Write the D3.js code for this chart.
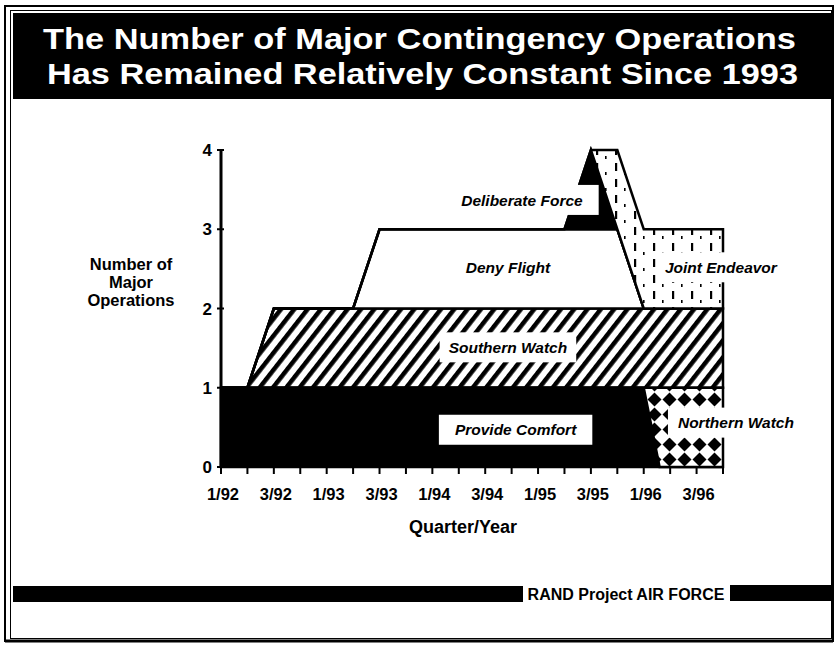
<!DOCTYPE html>
<html>
<head>
<meta charset="utf-8">
<script src="https://cdn.jsdelivr.net/npm/d3@7"></script>
<style>
  body { margin: 0; background: #fff; }
  text { font-family: "Liberation Sans", Arial, Helvetica, sans-serif; }
</style>
</head>
<body>
<div id="chart"></div>
<script>
// quarters since 1/92 where the series change (0 = 1/92, 19 = 4/96)
let quarterPos      = [0, 1, 2, 5, 6, 13, 14, 15, 16, 16.6, 19]
let provideComfort  = [1, 1, 1, 1, 1, 1,  1,  1,  1,  0,    0]
let northernWatch   = [0, 0, 0, 0, 0, 0,  0,  0,  0,  1,    1]
let southernWatch   = [0, 0, 1, 1, 1, 1,  1,  1,  1,  1,    1]
let denyFlight      = [0, 0, 0, 0, 1, 1,  1,  1,  0,  0,    0]
let deliberateForce = [0, 0, 0, 0, 0, 0,  1,  0,  0,  0,    0]
let jointEndeavor   = [0, 0, 0, 0, 0, 0,  0,  1,  1,  1,    1]

let seriesNames = ['Provide Comfort', 'Northern Watch', 'Southern Watch', 'Deny Flight', 'Deliberate Force', 'Joint Endeavor']
let seriesValues = [provideComfort, northernWatch, southernWatch, denyFlight, deliberateForce, jointEndeavor]

let quarterLabels = ['1/92','2/92','3/92','4/92','1/93','2/93','3/93','4/93','1/94','2/94',
                     '3/94','4/94','1/95','2/95','3/95','4/95','1/96','2/96','3/96','4/96']
let yTicks = [0, 1, 2, 3, 4]

// label anchors in chart units (quarter, operations)
let labelQ = [11.15, 19.49, 10.86, 10.86, 11.39, 18.92]
let labelV = [0.47, 0.56, 1.51, 2.52, 3.37, 2.52]

let width = 836, height = 648

let svg = d3.select('#chart').append('svg')
  .attr('width', width)
  .attr('height', height)

let defs = svg.append('defs')

// diagonal hatch for Southern Watch
defs.append('pattern')
  .attr('id', 'hatch')
  .attr('patternUnits', 'userSpaceOnUse')
  .attr('width', 10.5).attr('height', 10)
  .attr('patternTransform', 'rotate(38)')
  .append('rect')
  .attr('x', 0).attr('y', 0).attr('width', 4.5).attr('height', 10)
  .attr('fill', '#000')

// diamonds for Northern Watch
let dia = defs.append('pattern')
  .attr('id', 'diamonds')
  .attr('patternUnits', 'userSpaceOnUse')
  .attr('x', 2).attr('y', 2)
  .attr('width', 15).attr('height', 15)
dia.append('rect').attr('width', 15).attr('height', 15).attr('fill', '#fff')
dia.append('path').attr('d', 'M7.5,0.5 L14.5,7.5 L7.5,14.5 L0.5,7.5 Z').attr('fill', '#000')

// little dashes for Joint Endeavor
let dash = defs.append('pattern')
  .attr('id', 'dashes')
  .attr('patternUnits', 'userSpaceOnUse')
  .attr('x', 3).attr('y', 2)
  .attr('width', 19).attr('height', 16)
dash.append('rect').attr('width', 19).attr('height', 16).attr('fill', '#fff')
dash.append('rect').attr('x', 4).attr('y', 1).attr('width', 2.2).attr('height', 8).attr('fill', '#000')
dash.append('rect').attr('x', 13).attr('y', 10).attr('width', 1.6).attr('height', 3).attr('fill', '#000')

let fills = ['#000', 'url(#diamonds)', 'url(#hatch)', '#fff', '#000', 'url(#dashes)']

// frame
svg.append('rect').attr('x', 5).attr('y', 6).attr('width', 828).attr('height', 635)
  .attr('fill', 'none').attr('stroke', '#000').attr('stroke-width', 2)
svg.append('rect').attr('x', 10.5).attr('y', 10.5).attr('width', 821).attr('height', 628)
  .attr('fill', 'none').attr('stroke', '#000').attr('stroke-width', 1)
svg.append('line').attr('x1', 5).attr('x2', 833).attr('y1', 641).attr('y2', 641)
  .attr('stroke', '#000').attr('stroke-width', 3)

// title
svg.append('rect').attr('x', 13).attr('y', 13).attr('width', 818).attr('height', 86).attr('fill', '#000')
let titleLines = ['The Number of Major Contingency Operations', 'Has Remained Relatively Constant Since 1993']
svg.selectAll('.title').data(titleLines).join('text')
  .attr('class', 'title')
  .attr('x', (d, i) => i == 0 ? 43 : 47)
  .attr('y', (d, i) => i == 0 ? 49 : 84)
  .attr('textLength', (d, i) => i == 0 ? 753 : 751)
  .attr('lengthAdjust', 'spacingAndGlyphs')
  .style('font-size', '30px')
  .style('font-weight', 'bold')
  .style('fill', '#fff')
  .text(d => d)

// scales
let x = d3.scaleLinear().domain([0, 19]).range([221, 723])
let y = d3.scaleLinear().domain([0, 4]).range([467, 150])

let table = quarterPos.map((q, i) => {
  let row = { q: q }
  seriesNames.forEach((n, j) => { row[n] = seriesValues[j][i] })
  return row
})

let stacked = d3.stack().keys(seriesNames)(table)

let area = d3.area()
  .x(d => x(d.data.q))
  .y0(d => y(d[0]))
  .y1(d => y(d[1]))

svg.append('g')
  .selectAll('path')
  .data(stacked)
  .join('path')
  .attr('d', area)
  .attr('fill', (d, i) => fills[i])
  .attr('stroke', '#000')
  .attr('stroke-width', 2.5)
  .attr('stroke-linejoin', 'miter')

// y axis
svg.append('line')
  .attr('x1', x(0)).attr('x2', x(0))
  .attr('y1', y(4) - 1).attr('y2', y(0))
  .attr('stroke', '#000').attr('stroke-width', 3)

svg.selectAll('.ytick').data(yTicks).join('line')
  .attr('class', 'ytick')
  .attr('x1', x(0) - 4).attr('x2', x(0) + 3)
  .attr('y1', d => y(d)).attr('y2', d => y(d))
  .attr('stroke', '#000').attr('stroke-width', 2)

svg.selectAll('.ylab').data(yTicks).join('text')
  .attr('class', 'ylab')
  .attr('x', 212)
  .attr('y', d => y(d))
  .attr('dy', '0.36em')
  .attr('text-anchor', 'end')
  .style('font-size', '17px')
  .style('font-weight', 'bold')
  .text(d => d)

// x axis ticks
svg.selectAll('.xtick').data(quarterLabels).join('line')
  .attr('class', 'xtick')
  .attr('x1', (d, i) => x(i)).attr('x2', (d, i) => x(i))
  .attr('y1', y(0)).attr('y2', y(0) + 7)
  .attr('stroke', '#000').attr('stroke-width', 2)

svg.selectAll('.xlab').data(quarterLabels.filter((d, i) => i % 2 == 0)).join('text')
  .attr('class', 'xlab')
  .attr('x', (d, i) => x(i * 2) + 2)
  .attr('y', 500)
  .attr('text-anchor', 'middle')
  .style('font-size', '16.5px')
  .style('font-weight', 'bold')
  .text(d => d)

svg.append('text')
  .attr('x', 463).attr('y', 533)
  .attr('text-anchor', 'middle')
  .style('font-size', '18px')
  .style('font-weight', 'bold')
  .text('Quarter/Year')

svg.selectAll('.ytitle').data(['Number of', 'Major', 'Operations']).join('text')
  .attr('class', 'ytitle')
  .attr('x', 131)
  .attr('y', (d, i) => 270 + i * 18)
  .attr('text-anchor', 'middle')
  .style('font-size', '16.5px')
  .style('font-weight', 'bold')
  .text(d => d)

// series labels with white boxes
let padX = [16, 10, 9, 0, 16, 5]
let labels = svg.append('g').selectAll('g')
  .data(seriesNames)
  .join('g')
  .attr('transform', (d, i) => `translate(${x(labelQ[i])},${y(labelV[i])})`)

labels.append('rect')
labels.append('text')
  .attr('text-anchor', 'middle')
  .attr('dy', '0.36em')
  .style('font-size', '15.5px')
  .style('font-weight', 'bold')
  .style('font-style', 'italic')
  .text(d => d)

labels.each(function(d, i) {
  let g = d3.select(this)
  let w = g.select('text').node().getComputedTextLength()
  g.select('rect')
    .attr('x', -w / 2 - padX[i])
    .attr('y', -15)
    .attr('width', w + 2 * padX[i])
    .attr('height', 30)
    .attr('fill', '#fff')
    .attr('opacity', padX[i] == 0 ? 0 : 1)
})

// footer
svg.append('rect').attr('x', 13).attr('y', 586).attr('width', 510).attr('height', 16).attr('fill', '#000')
svg.append('rect').attr('x', 730).attr('y', 585).attr('width', 101).attr('height', 16).attr('fill', '#000')
svg.append('text')
  .attr('x', 626).attr('y', 594)
  .attr('dy', '0.36em')
  .attr('text-anchor', 'middle')
  .style('font-size', '16px')
  .style('font-weight', 'bold')
  .text('RAND Project AIR FORCE')
</script>
</body>
</html>
